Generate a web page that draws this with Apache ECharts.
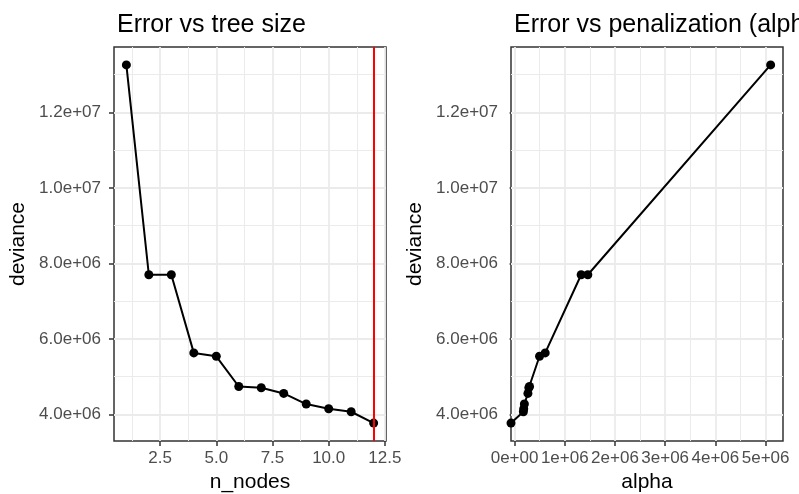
<!DOCTYPE html>
<html><head><meta charset="utf-8">
<script src="https://cdn.jsdelivr.net/npm/echarts@6/dist/echarts.min.js"></script>
<style>html,body{margin:0;padding:0;background:#fff}#c{width:799px;height:494px}</style>
</head><body><div id="c"></div>
<script>
// ---- data ----
const nNodes   = [1, 2, 3, 4, 5, 6, 7, 8, 9, 10, 11, 12];
const deviance = [13260000, 7700000, 7700000, 5630000, 5540000, 4740000, 4706000, 4556000, 4275000, 4150000, 4070000, 3770000];
const alpha    = [5100000, 1459000, 1326000, 610000, 497000, 298000, 284000, 266000, 195000, 182000, 175000, -Infinity];
const bestSize = 12;
const titleLeft = "Error vs tree size";
const titleRight = "Error vs penalization (alpha)";
const xTicksLeft  = [2.5, 5, 7.5, 10, 12.5];
const xTicksRight = [0, 1e6, 2e6, 3e6, 4e6, 5e6];
const yTicks      = [4e6, 6e6, 8e6, 1e7, 1.2e7];

// ---- helpers ----
function expand(vals){
  const f = vals.filter(Number.isFinite);
  const lo = Math.min(...f), hi = Math.max(...f), d = (hi - lo) * 0.05;
  return [lo - d, hi + d];
}
function sci(v, dig){
  if (v === 0) return (0).toFixed(dig) + 'e+00';
  let e = Math.floor(Math.log10(Math.abs(v)) + 1e-9);
  let m = v / Math.pow(10, e);
  const s = e < 0 ? '-' : '+';
  const ea = Math.abs(e);
  return m.toFixed(dig) + 'e' + s + (ea < 10 ? '0' + ea : ea);
}
function minorOf(ticks, lo, hi){
  const step = ticks[1] - ticks[0];
  const out = [];
  for (let v = ticks[0] - step * 3 + step / 2; v <= hi; v += step) if (v >= lo) out.push(v);
  return out;
}

const [yMin, yMax] = expand(deviance);
const [x1Min, x1Max] = expand(nNodes);
const [x2Min, x2Max] = expand(alpha);

const leftData = nNodes.map((n, i) => [n, deviance[i]]);
const rightData = alpha.map((a, i) => [Number.isFinite(a) ? a : x2Min, deviance[i]])
                       .sort((p, q) => p[0] - q[0]);

const GRID_MAJ = '#EBEBEB';
const tickFont = {fontFamily: 'Liberation Sans, Arial, sans-serif', fontSize: 17, color: '#4D4D4D'};
const nameFont = {fontFamily: 'Liberation Sans, Arial, sans-serif', fontSize: 21, color: '#000'};

function gridLines(xi, xTicks, xlo, xhi){
  const ml = [];
  minorOf(xTicks, xlo, xhi).forEach(v => ml.push({xAxis: v, lineStyle: {width: 1, color: GRID_MAJ}}));
  minorOf(yTicks, yMin, yMax).forEach(v => ml.push({yAxis: v, lineStyle: {width: 1, color: GRID_MAJ}}));
  xTicks.filter(v => v >= xlo && v <= xhi).forEach(v => ml.push({xAxis: v, lineStyle: {width: 1.8, color: GRID_MAJ}}));
  yTicks.forEach(v => ml.push({yAxis: v, lineStyle: {width: 1.8, color: GRID_MAJ}}));
  return {
    type: 'line', xAxisIndex: xi, yAxisIndex: xi, data: [], z: 1, silent: true,
    markLine: {z: 1, silent: true, symbol: ['none', 'none'], label: {show: false}, animation: false,
      lineStyle: {type: 'solid'}, data: ml}
  };
}

function xAxis(gi, lo, hi, ticks, dig, name){
  return {
    type: 'value', gridIndex: gi, min: lo, max: hi, name: name,
    nameLocation: 'middle', nameGap: 31, nameTextStyle: nameFont,
    axisLine: {show: false}, splitLine: {show: false},
    axisTick: {show: true, length: 5, customValues: ticks, lineStyle: {color: '#333', width: 1.5}},
    axisLabel: Object.assign({margin: 9, customValues: ticks, formatter: v => dig === null ? Number(v).toFixed(1) : sci(v, dig)}, tickFont)
  };
}
function yAxis(gi){
  return {
    type: 'value', gridIndex: gi, min: yMin, max: yMax, name: 'deviance',
    nameLocation: 'middle', nameGap: 85, nameTextStyle: nameFont,
    axisLine: {show: false}, splitLine: {show: false},
    axisTick: {show: true, length: 5, customValues: yTicks, lineStyle: {color: '#333', width: 1.5}},
    axisLabel: Object.assign({margin: 13, customValues: yTicks, formatter: v => sci(v, 1)}, tickFont)
  };
}

const chart = echarts.init(document.getElementById('c'), null, {renderer: 'canvas'});
chart.setOption({
  animation: false,
  backgroundColor: '#fff',
  title: [
    {text: titleLeft, left: 112, top: 8, textStyle: {fontFamily: 'Liberation Sans, Arial, sans-serif', fontSize: 25, fontWeight: 'normal', color: '#000'}},
    {text: titleRight, left: 509, top: 8, textStyle: {fontFamily: 'Liberation Sans, Arial, sans-serif', fontSize: 25, fontWeight: 'normal', color: '#000'}}
  ],
  grid: [
    {left: 114, right: 413, top: 47, bottom: 53, containLabel: false, outerBoundsMode: 'none', show: true, backgroundColor: '#fff', borderColor: '#333', borderWidth: 1.5},
    {left: 511, right: 16, top: 47, bottom: 53, containLabel: false, outerBoundsMode: 'none', show: true, backgroundColor: '#fff', borderColor: '#333', borderWidth: 1.5}
  ],
  xAxis: [
    xAxis(0, x1Min, x1Max, xTicksLeft, null, 'n_nodes'),
    xAxis(1, x2Min, x2Max, xTicksRight, 0, 'alpha')
  ],
  yAxis: [yAxis(0), yAxis(1)],
  series: [
    gridLines(0, xTicksLeft, x1Min, x1Max),
    gridLines(1, xTicksRight, x2Min, x2Max),
    {
      type: 'line', xAxisIndex: 0, yAxisIndex: 0, data: leftData, z: 3,
      symbol: 'circle', symbolSize: 9, showSymbol: true,
      lineStyle: {color: '#000', width: 2}, itemStyle: {color: '#000'},
      markLine: {z: 4, silent: true, symbol: ['none', 'none'], label: {show: false}, animation: false,
        lineStyle: {color: '#FF0000', width: 2, type: 'solid'}, data: [{xAxis: bestSize}]}
    },
    {
      type: 'line', xAxisIndex: 1, yAxisIndex: 1, data: rightData, z: 3,
      symbol: 'circle', symbolSize: 9, showSymbol: true, clip: true,
      lineStyle: {color: '#000', width: 2}, itemStyle: {color: '#000'}
    }
  ]
});
</script>
</body></html>
